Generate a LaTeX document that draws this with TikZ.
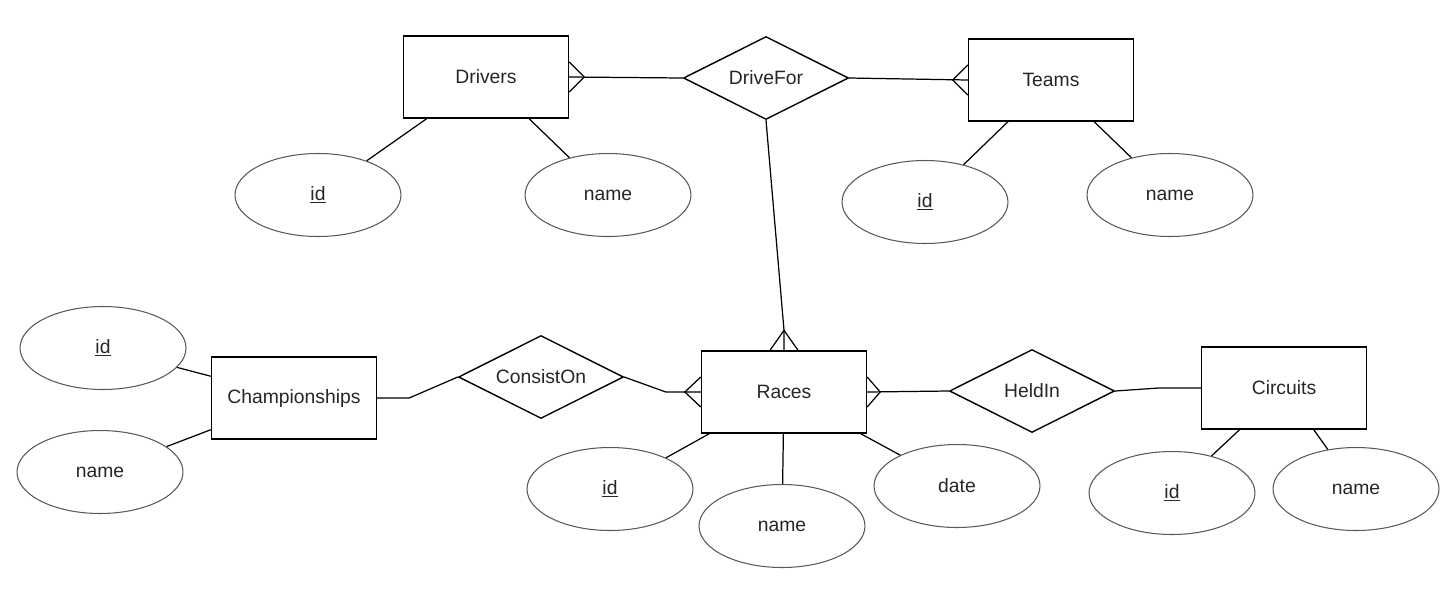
\documentclass[tikz,border=0pt]{standalone}
\usepackage{fontspec}
\setmainfont{Liberation Sans}
\usetikzlibrary{shapes.geometric,calc}

\begin{document}
\begin{tikzpicture}[x=0.02cm,y=-0.02cm,
  entity/.style={draw,line width=0.8pt,minimum width=3.3cm,minimum height=1.64cm,inner sep=0pt,font=\fontsize{11}{13}\selectfont,text=black!85},
  relation/.style={draw,diamond,aspect=2,line width=0.8pt,minimum width=3.3cm,minimum height=1.66cm,inner sep=0pt,font=\fontsize{11}{13}\selectfont,text=black!85},
  attribute/.style={draw=black!65,ellipse,line width=0.6pt,minimum width=3.32cm,minimum height=1.66cm,inner sep=0pt,font=\fontsize{11}{13}\selectfont,text=black!85},
  link/.style={line width=0.7pt}]
\useasboundingbox (0,0) rectangle (1454,613);

% entities
\node[entity] (drivers) at (486,77) {Drivers};
\node[entity] (teams) at (1051,80) {Teams};
\node[entity] (champ) at (294,398) {Championships};
\node[entity] (races) at (784,392) {Races};
\node[entity] (circuits) at (1284,388) {Circuits};

% relations
\node[relation] (drivefor) at (766,78) {DriveFor};
\node[relation] (consist) at (541,377) {ConsistOn};
\node[relation] (heldin) at (1032,391) {HeldIn};

% attributes
\node[attribute] (drvid) at (318,195) {\underline{id}};
\node[attribute] (drvname) at (608,195) {name};
\node[attribute] (teamid) at (925,202) {\underline{id}};
\node[attribute] (teamname) at (1170,195) {name};
\node[attribute] (chid) at (103,348) {\underline{id}};
\node[attribute] (chname) at (100,472) {name};
\node[attribute] (rcid) at (610,489) {\underline{id}};
\node[attribute] (rcname) at (782,526) {name};
\node[attribute] (rcdate) at (957,486) {date};
\node[attribute] (ciid) at (1172,493) {\underline{id}};
\node[attribute] (ciname) at (1356,489) {name};

\draw[link] (drivers) -- (drvid);
\draw[link] (drivers) -- (drvname);
\draw[link] (teams) -- (teamid);
\draw[link] (teams) -- (teamname);
\draw[link] (champ) -- (chid);
\draw[link] (champ) -- (chname);
\draw[link] (races) -- (rcid);
\draw[link] (races) -- (rcname);
\draw[link] (races) -- (rcdate);
\draw[link] (circuits) -- (ciid);
\draw[link] (circuits) -- (ciname);

% relationship lines
\coordinate (rctop) at ($(races.north)+(0,-20)$);
\draw[link] (drivers.east) -- (drivefor.west);
\draw[link] (drivefor.east) -- (teams.west);
\draw[link] (drivefor.south) -- (rctop) -- (races.north);
\draw[link] (champ.east) -- ++(32,0) -- (consist.west);
\draw[link] (consist.east) -- ($(races.west)+(-35,0)$) -- (races.west);
\draw[link] (races.east) -- (heldin.west);
\draw[link] (heldin.east) -- ($(circuits.west)+(-42,0)$) -- (circuits.west);

% crow's feet
\draw[link] ($(drivers.east)+(0,-15)$) -- ($(drivers.east)+(15,0)$) -- ($(drivers.east)+(0,15)$);
\draw[link] ($(teams.west)+(0,-15)$) -- ($(teams.west)+(-15,0)$) -- ($(teams.west)+(0,15)$);
\draw[link] ($(races.north)+(-14,0)$) -- (rctop) -- ($(races.north)+(14,0)$);
\draw[link] ($(races.west)+(0,-15)$) -- ($(races.west)+(-16,0)$) -- ($(races.west)+(0,15)$);
\draw[link] ($(races.east)+(0,-15)$) -- ($(races.east)+(13,0)$) -- ($(races.east)+(0,15)$);
\end{tikzpicture}
\end{document}
